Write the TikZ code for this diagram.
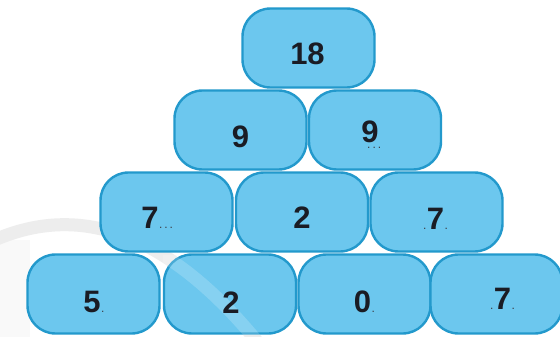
\documentclass[tikz,border=0pt]{standalone}
\usepackage{fontspec}
\setmainfont{Liberation Sans}
\definecolor{brickfill}{HTML}{6CC7EE}
\definecolor{brickline}{HTML}{2399CC}
\definecolor{digitcol}{HTML}{1A1C24}
\begin{document}
\begin{tikzpicture}[x=1pt,y=-1pt,
  brick/.style={draw=brickline, fill=brickfill, line width=2.4pt, rounded corners=28pt,
                minimum width=132pt, minimum height=79pt, inner sep=0pt},
  digit/.style={font=\fontsize{31}{31}\selectfont\bfseries, text=digitcol, inner sep=0pt},
  dotmark/.style={font=\fontsize{12}{12}\selectfont, text=digitcol!85, inner sep=0pt},
  swoosh/.style={line width=13pt, line cap=round}]
\useasboundingbox (0,0) rectangle (560,337);
\fill[white] (0,0) rectangle (560,337);
% faint background watermark
\fill[gray!5] (0,240) rectangle (30,337);
\draw[swoosh, gray!14] (-10,242) .. controls (70,205) and (160,222) .. (260,345);

% bricks
\node[brick] (b0) at (308.5,48) {};
\node[brick] (b1a) at (240.5,130) {};
\node[brick] (b1b) at (375,130) {};
\node[brick] (b2a) at (166.5,212) {};
\node[brick] (b2b) at (302,212) {};
\node[brick] (b2c) at (436.5,212) {};
\node[brick] (b3a) at (93.5,294) {};
\node[brick] (b3b) at (230,294) {};
\node[brick] (b3c) at (364.5,294) {};
\node[brick] (b3d) at (496.5,294) {};

% faint reflection on a brick
\begin{scope}
  \clip (163,255) rectangle (297,334);
  \draw[swoosh, white, opacity=0.18] (-10,242) .. controls (70,205) and (160,222) .. (260,345);
\end{scope}

% numbers
\node[digit] (t0) at (307.5,54) {18};
\node[digit] (t1a) at (240.5,137) {9};
\node[digit] (t1b) at (370,132) {9};
\node[digit] (t2a) at (150,218) {7};
\node[digit] (t2b) at (302,218) {2};
\node[digit] (t2c) at (435.5,219) {7};
\node[digit] (t3a) at (92,302) {5};
\node[digit] (t3b) at (231,302.5) {2};
\node[digit] (t3c) at (362.5,302) {0};
\node[digit] (t3d) at (502.5,299) {7};

% small dots (blanks to fill)
\node[dotmark, anchor=base west] (d1b) at ([xshift=-3pt,yshift=-6pt]t1b.base) {.\,.\,.};
\node[dotmark, anchor=base west] (d2a) at (t2a.base east) {.\,.\,.};
\node[dotmark, anchor=base east] (d2cl) at (t2c.base west) {.};
\node[dotmark, anchor=base west] (d2cr) at (t2c.base east) {.};
\node[dotmark, anchor=base west] (d3a) at (t3a.base east) {.};
\node[dotmark, anchor=base west] (d3c) at (t3c.base east) {.};
\node[dotmark, anchor=base east] (d3dl) at (t3d.base west) {.};
\node[dotmark, anchor=base west] (d3dr) at (t3d.base east) {.};
\end{tikzpicture}
\end{document}
